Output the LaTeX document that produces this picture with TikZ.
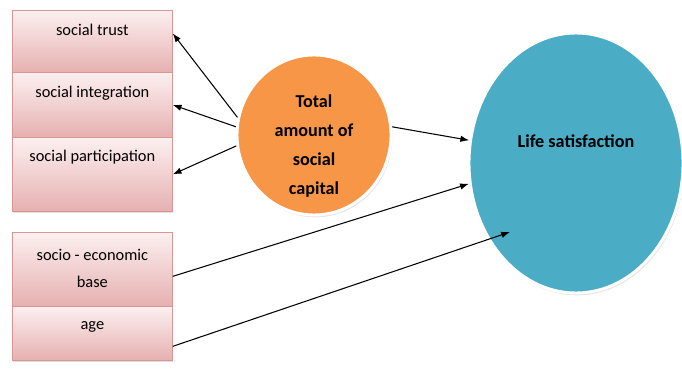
\documentclass[tikz,border=0pt]{standalone}
\usepackage{fontspec}
\setmainfont{Carlito}
\usetikzlibrary{shapes.geometric,shadows,arrows.meta}
\definecolor{boxtop}{HTML}{FCF0F0}
\definecolor{boxbottom}{HTML}{E6B0B0}
\definecolor{boxline}{HTML}{D99594}
\definecolor{capitalfill}{HTML}{F79646}
\definecolor{lifefill}{HTML}{4BACC6}
\tikzset{
  factor/.style={rectangle, draw=boxline, line width=0.6pt, top color=boxtop, bottom color=boxbottom,
    minimum width=4.8cm, inner sep=0pt, anchor=north west,
    drop shadow={opacity=0.25, shadow xshift=0.6pt, shadow yshift=-1.2pt}},
  factortext/.style={align=center, inner sep=0pt, font=\fontsize{14}{23}\selectfont},
  bubble/.style={ellipse, draw=white, line width=2.5pt, inner sep=0pt,
    drop shadow={opacity=0.2, shadow xshift=1.2pt, shadow yshift=-2pt}},
  bubbletext/.style={align=center, inner sep=0pt, font=\fontsize{15.5}{25}\selectfont\bfseries}
}
\begin{document}
\begin{tikzpicture}[x=0.03cm, y=-0.03cm, >={Latex[length=7.5pt,width=5.5pt]}, line width=0.9pt]
  \useasboundingbox (0,0) rectangle (682,371);
  % factors on the left
  \node[factor, minimum height=1.86cm] (trust) at (12,10) {};
  \node[factor, minimum height=1.95cm] (integration) at (12,72) {};
  \node[factor, minimum height=2.22cm] (participation) at (12,137) {};
  \node[factor, minimum height=2.22cm] (socioeco) at (12,232) {};
  \node[factor, minimum height=1.62cm] (age) at (12,306) {};
  \node[factortext] (trusttext) at ([yshift=-0.6cm]trust.north) {social trust};
  \node[factortext] (integrationtext) at ([yshift=-0.63cm]integration.north) {social integration};
  \node[factortext] (participationtext) at ([yshift=-0.6cm]participation.north) {social participation};
  \node[factortext] (socioecotext) at ([yshift=-1.1cm]socioeco.north) {socio - economic\\base};
  \node[factortext] (agetext) at ([yshift=-0.63cm]age.north) {age};
  % ellipses
  \node[bubble, fill=capitalfill, minimum width=4.62cm, minimum height=4.8cm] (capital) at (314,135) {};
  \node[bubbletext] (capitaltext) at ([yshift=-0.33cm]capital.center) {Total\\amount of\\social\\capital};
  \node[bubble, fill=lifefill, minimum width=6.42cm, minimum height=7.8cm] (life) at (576,163) {};
  \node[bubbletext] (lifetext) at ([yshift=0.66cm]life.center) {Life satisfaction};
  \coordinate (agehit) at (510,232);
  % connectors
  \draw[->] (capital.167) -- ([yshift=0.24cm]trust.east);
  \draw[->] (capital.174) -- (integration.east);
  \draw[->] (capital.188) -- (participation.east);
  \draw[->] (capital.6) -- (life.168);
  \draw[->] ([yshift=-0.21cm]socioeco.east) -- (life.191);
  \draw[->] ([yshift=-0.39cm]age.east) -- (agehit);
\end{tikzpicture}
\end{document}
